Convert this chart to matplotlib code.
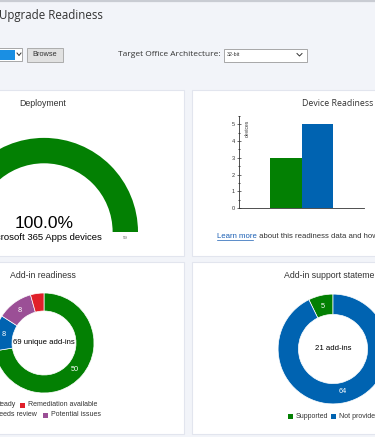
import matplotlib.pyplot as plt
from matplotlib.patches import Rectangle

W, H = 375, 437

# deployment gauge
deployed_devices = 59
total_devices = 59

# device readiness bars
readiness_states = ["Ready", "Not ready"]
readiness_counts = [3, 5]

# add-in readiness donut
addin_states = ["Ready", "Needs review", "Potential issues", "Remediation available"]
addin_counts = [50, 8, 8, 3]
addin_center = "69 unique add-ins"

# add-in support statement donut
support_states = ["Supported", "Not provided"]
support_counts = [5, 64]
support_center = "21 add-ins"

GREEN = "#038003"
BLUE = "#0063b1"
PURPLE = "#9b4f96"
RED = "#e0202a"
BG = "#f2f4f9"
BORDER = "#e2e5ee"
TXT = "#333333"

plt.rcParams["font.family"] = ["Liberation Sans", "DejaVu Sans"]

fig = plt.figure(figsize=(W / 100, H / 100), dpi=100)
fig.patch.set_facecolor(BG)

bg = fig.add_axes([0, 0, 1, 1])
bg.set_xlim(0, W)
bg.set_ylim(H, 0)
bg.axis("off")


def px_axes(x, y, w, h):
    ax = fig.add_axes([x / W, 1 - (y + h) / H, w / W, h / H])
    ax.set_facecolor("none")
    return ax


# header
bg.plot([0, W], [0.8, 0.8], color="#c9ccd3", lw=1.6)
bg.text(-1, 15, "Upgrade Readiness", fontsize=8.3, color=TXT, va="center",
        family=["Open Sans", "DejaVu Sans"])

# left dropdown + browse button
bg.add_patch(Rectangle((-2, 48), 24, 13, facecolor="white", edgecolor="#9a9a9a", lw=0.6))
bg.add_patch(Rectangle((-2, 49.5), 17, 10, facecolor="#1a8fe3", edgecolor="none"))
bg.plot([17, 19, 21], [53, 55.5, 53], color="#333333", lw=0.7)
bg.add_patch(Rectangle((27, 47.5), 36, 14, facecolor="#e1e1e1", edgecolor="#adadad", lw=0.7))
bg.text(45, 54.5, "Browse", fontsize=5.3, color=TXT, ha="center", va="center")

bg.text(221, 55, "Target Office Architecture:", fontsize=6, color=TXT, ha="right",
        va="center", family=["Open Sans", "DejaVu Sans"])
bg.add_patch(Rectangle((224, 48.5), 83, 13, facecolor="white", edgecolor="#9a9a9a", lw=0.6))
bg.text(227, 55, "32-bit", fontsize=3.8, color=TXT, va="center")
bg.plot([297, 299.5, 302], [53.5, 56, 53.5], color="#333333", lw=0.7)

# panels
for (x, y, w, h) in [(-5, 90, 189, 166), (192, 90, 190, 166),
                     (-5, 262, 189, 172), (192, 262, 190, 172)]:
    bg.add_patch(Rectangle((x, y), w, h, facecolor="white", edgecolor=BORDER, lw=0.8))

# ---- Deployment gauge
bg.text(43, 103, "Deployment", fontsize=6.3, color=TXT, ha="center", va="center")
ax_g = px_axes(-50, 136, 188, 96)
ax_g.pie([deployed_devices, total_devices - deployed_devices, total_devices],
         colors=[GREEN, "#e6e6e6", "none"], startangle=180, counterclock=False,
         wedgeprops=dict(width=0.27, linewidth=0))
ax_g.set_aspect("auto")
ax_g.set_xlim(-1, 1)
ax_g.set_ylim(0, 1.02)
pct = 100.0 * deployed_devices / total_devices
bg.text(44, 224, f"{pct:.1f}%", fontsize=12.5, color="black", ha="center", va="center")
bg.text(44, 237, "Microsoft 365 Apps devices", fontsize=6.8, color="black",
        ha="center", va="center")
bg.text(125, 238, str(total_devices), fontsize=3.2, color="#666666", ha="center", va="center")

# ---- Device Readiness bars
bg.text(302, 103, "Device Readiness", fontsize=6.3, color=TXT, va="center",
        family=["Open Sans", "DejaVu Sans"])
ax_b = px_axes(239, 116, 125, 92)
ax_b.bar(readiness_states, readiness_counts, width=1.0, color=[GREEN, BLUE])
ax_b.set_xlim(-1.5, 2.5)
ax_b.set_ylim(0, 5.5)
ax_b.set_xticks([])
ax_b.set_yticks(range(6))
ax_b.set_yticks([i + 0.5 for i in range(6)], minor=True)
ax_b.tick_params(axis="y", which="major", labelsize=4, length=2.5, width=0.5,
                 direction="inout", pad=1.5, colors=TXT)
ax_b.tick_params(axis="y", which="minor", length=1.5, width=0.5, direction="inout")
for s in ["top", "right"]:
    ax_b.spines[s].set_visible(False)
for s in ["left", "bottom"]:
    ax_b.spines[s].set_linewidth(0.6)
    ax_b.spines[s].set_color(TXT)
ax_b.text(0.045, 0.96, "devices", rotation=90, fontsize=3.6, color=TXT,
          transform=ax_b.transAxes, va="top", ha="left")

link = bg.text(217, 236, "Learn more", fontsize=5.6, color="#1a5fb4", va="center")
bg.plot([217, 252.5], [240, 240], color="#1a5fb4", lw=0.5)
bg.annotate(" about this readiness data and how to collect it", xy=(1, 0.5),
            xycoords=link, fontsize=5.6, color=TXT, va="center", ha="left",
            annotation_clip=False)

# ---- Add-in readiness donut
bg.text(43, 276, "Add-in readiness", fontsize=6.3, color=TXT, ha="center", va="center")
addin_colors = [GREEN, BLUE, PURPLE, RED]
ax_d1 = px_axes(-7, 292, 102, 102)
tot1 = sum(addin_counts)
ax_d1.pie(addin_counts, colors=addin_colors, startangle=90, counterclock=False,
          wedgeprops=dict(width=0.36, edgecolor="white", linewidth=0.5),
          autopct=lambda p: f"{round(p * tot1 / 100)}" if p * tot1 / 100 >= 5 else "",
          pctdistance=0.82, textprops=dict(color="white", fontsize=5.3))
ax_d1.set_xlim(-1.02, 1.02)
ax_d1.set_ylim(-1.02, 1.02)
ax_d1.text(0, 0, addin_center, fontsize=5.6, color="black", ha="center", va="center")

# legend flows inline: (text x, row y, alignment)
legend1 = [("Ready", GREEN, -5, 405, "left"),
           ("Remediation available", RED, 28, 405, "left"),
           ("Needs review", BLUE, 36.5, 415, "right"),
           ("Potential issues", PURPLE, 51, 415, "left")]
for lab, c, lx, ly, al in legend1:
    t = bg.text(lx, ly, lab, fontsize=5, color=TXT, va="center", ha=al)
    if al == "left":
        bg.add_patch(Rectangle((lx - 8.5, ly - 2.5), 5, 5, facecolor=c, edgecolor="none"))

# ---- Add-in support statement donut
bg.text(284, 276, "Add-in support statements", fontsize=6.3, color=TXT, va="center")
ax_d2 = px_axes(277, 293, 112, 112)
tot2 = sum(support_counts)
ax_d2.pie(support_counts, colors=[GREEN, BLUE], startangle=90, counterclock=True,
          wedgeprops=dict(width=0.37, edgecolor="white", linewidth=0.5),
          autopct=lambda p: f"{round(p * tot2 / 100)}",
          pctdistance=0.8, textprops=dict(color="white", fontsize=5.3))
ax_d2.set_xlim(-1.02, 1.02)
ax_d2.set_ylim(-1.02, 1.02)
ax_d2.text(0, 0, support_center, fontsize=5.6, color="black", ha="center", va="center")

for lx, lab, c in zip([296, 339], support_states, [GREEN, BLUE]):
    bg.add_patch(Rectangle((lx - 8, 413.5), 5, 5, facecolor=c, edgecolor="none"))
    bg.text(lx, 416, lab, fontsize=5, color=TXT, va="center")

fig.savefig("out.png", dpi=100, facecolor=BG)
